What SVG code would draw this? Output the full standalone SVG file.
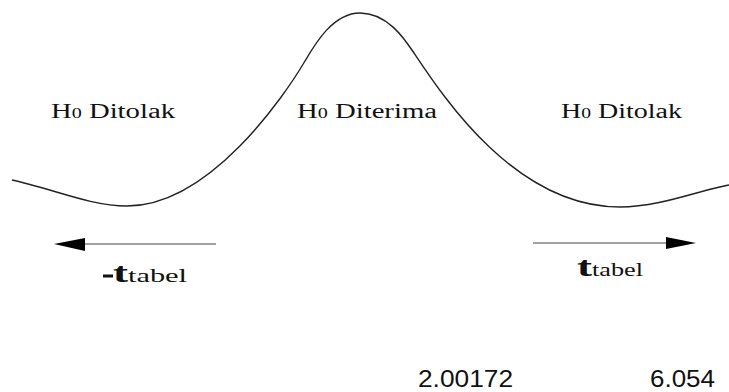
<svg xmlns="http://www.w3.org/2000/svg" width="729" height="392" viewBox="0 0 729 392">
<style>
.lbl{font-family:"Liberation Serif","Times New Roman",serif;font-size:20px;fill:#111}
.sub0{font-size:14px}
.tbig{font-family:"Liberation Serif","Times New Roman",serif;font-size:28px;font-weight:bold;fill:#111}
.tsm{font-family:"Liberation Serif","Times New Roman",serif;font-size:19px;fill:#111}
.num{font-family:"Liberation Sans",Arial,sans-serif;font-size:23px;fill:#111}
.curve{fill:none;stroke:#222;stroke-width:1.4}
.shaft{stroke:#444;stroke-width:1.1}
.head{fill:#000}
</style>
<rect width="729" height="392" fill="#fff"/>
<g id="curve">
<path class="curve" d="M12,180 C50,188 90,206 127,206 C210,206 285,95 305,61 C315,44 333,13 360,13 C387,13 404,38 414,53 C444,98 516,207 620,207 C660,207 700,190 729,185"/>
</g>
<g id="region-left">
<text class="lbl" x="51" y="118" textLength="124" lengthAdjust="spacingAndGlyphs">H<tspan class="sub0">0</tspan> Ditolak</text>
</g>
<g id="region-center">
<text class="lbl" x="297" y="118" textLength="140" lengthAdjust="spacingAndGlyphs">H<tspan class="sub0">0</tspan> Diterima</text>
</g>
<g id="region-right">
<text class="lbl" x="561" y="118" textLength="121" lengthAdjust="spacingAndGlyphs">H<tspan class="sub0">0</tspan> Ditolak</text>
</g>
<g id="connectors">
<line class="shaft" x1="216" y1="244" x2="80" y2="244"/>
<polygon class="head" points="54,244 85,238 85,251"/>
<line class="shaft" x1="533" y1="243" x2="670" y2="243"/>
<polygon class="head" points="696,243 666,237 666,249"/>
</g>
<g id="label-neg-t">
<rect x="103" y="274.5" width="10" height="3" fill="#111"/>
<text class="tbig" x="113" y="282" textLength="15" lengthAdjust="spacingAndGlyphs">t</text>
<text class="tsm" x="128" y="282" textLength="59" lengthAdjust="spacingAndGlyphs">tabel</text>
</g>
<g id="label-pos-t">
<text class="tbig" x="577" y="276" textLength="15" lengthAdjust="spacingAndGlyphs">t</text>
<text class="tsm" x="592" y="276" textLength="51" lengthAdjust="spacingAndGlyphs">tabel</text>
</g>
<g id="values">
<text class="num" x="418" y="387" textLength="95" lengthAdjust="spacingAndGlyphs">2.00172</text>
<text class="num" x="650" y="387" textLength="65" lengthAdjust="spacingAndGlyphs">6.054</text>
</g>
</svg>
